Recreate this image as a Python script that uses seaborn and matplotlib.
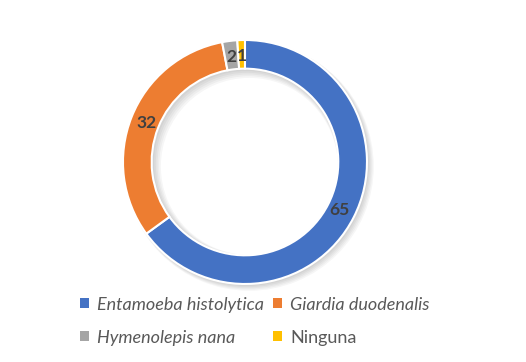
import matplotlib
matplotlib.use("Agg")
import matplotlib.pyplot as plt
import seaborn as sns
from matplotlib.patches import Patch

sns.set_theme(style="white")
plt.rcParams['font.family'] = ['Lato', 'DejaVu Sans']

categories = ["Entamoeba histolytica", "Giardia duodenalis", "Hymenolepis nana", "Ninguna"]
values = [65, 32, 2, 1]
colors = ["#4472C4", "#ED7D31", "#A5A5A5", "#FFC000"]
italic = [True, True, True, False]

fig = plt.figure(figsize=(5.26, 3.62), dpi=100)
fig.patch.set_facecolor("white")
ax = fig.add_axes([0.2338, 0.2155, 244/526, 244/362])

W = 0.235
# soft shadow (several offset translucent rings)
for i in range(6):
    off = 0.006 * (i + 1)
    ax.pie([1], radius=1.0 + 0.004 * i, colors=["#000000"], startangle=90, counterclock=False,
           wedgeprops=dict(width=W + 0.012 * i, linewidth=0, alpha=0.035),
           center=(off, -off))

total = sum(values)
wedges, texts, autotexts = ax.pie(
    values, colors=colors, startangle=90, counterclock=False, radius=1.0,
    wedgeprops=dict(width=W, edgecolor="white", linewidth=1.5),
    autopct=lambda p: f"{p * total / 100:.0f}", pctdistance=0.87,
    textprops=dict(color="#404040", fontsize=12.5, fontweight="bold"))
ax.set_aspect("equal")
ax.set_xlim(-1.0, 1.0)
ax.set_ylim(-1.0, 1.0)

order = [0, 2, 1, 3]
handles = [Patch(facecolor=colors[i], edgecolor="none") for i in order]
labels = [categories[i] for i in order]
leg = fig.legend(handles, labels, loc="lower center", ncol=2,
                 bbox_to_anchor=(0.484, 0.0), frameon=False, fontsize=13,
                 handlelength=0.5, handleheight=0.5, handletextpad=0.45,
                 columnspacing=0.5, labelspacing=0.95)
for t, i in zip(leg.get_texts(), order):
    t.set_color("#595959")
    if italic[i]:
        t.set_fontstyle("italic")

fig.savefig("out.png", dpi=100)
